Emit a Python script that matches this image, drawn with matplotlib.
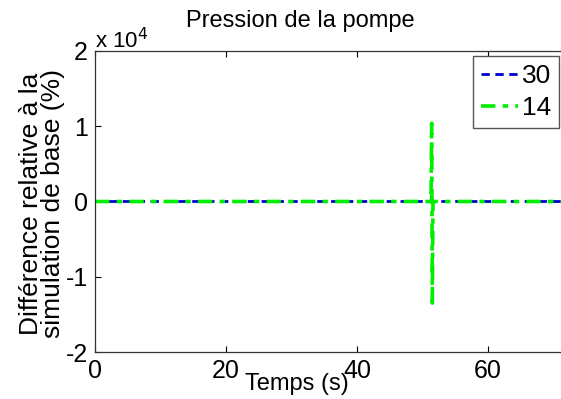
import numpy as np
import matplotlib.pyplot as plt

plt.rcParams['font.family'] = ['Liberation Sans', 'DejaVu Sans']

# time (s) and relative difference (%) for both runs
temps = [0, 5, 10, 15, 20, 25, 30, 35, 40, 45, 50, 51.3, 51.4, 51.5, 51.6, 52, 55, 60, 65, 70, 72]
diff_30 = [0, 0, 0, 0, 0, 0, 0, 0, 0, 0, 0, 0, 900, -200, 0, 0, 0, 0, 0, 0, 0]
diff_14 = [0, 0, 0, 0, 0, 0, 0, 0, 0, 0, 0, 0, 10400, -13500, 0, 0, 0, 0, 0, 0, 0]

xticks = [0, 20, 40, 60]
yticks = [-2e4, -1e4, 0, 1e4, 2e4]
ytick_labels = ['-2', '-1', '0', '1', '2']

fig = plt.figure(figsize=(5.61, 3.99), dpi=100)
x0, x1 = 95 / 561, (95 + 6.55 * 72) / 561
ax = fig.add_axes([x0, 1 - 352 / 399, x1 - x0, 301 / 399])

ax.plot(temps, diff_30, color='#0000cc', ls='--', lw=2, label='30', dashes=(3, 2))
ax.plot(temps, diff_14, color='#00ee00', ls='-.', lw=2.6, label='14', dashes=(4, 2, 1.5, 2))

ax.set_xlim(0, 72)
ax.set_ylim(-2e4, 2e4)
ax.set_xticks(xticks)
ax.set_yticks(yticks)
ax.set_yticklabels(ytick_labels)
ax.tick_params(direction='in', length=4, top=True, right=True, labelsize=18, pad=5)
for s in ax.spines.values():
    s.set_linewidth(0.9)
    s.set_color('#333333')

fig.text(95 / 561, 1 - 48 / 399, r'x 10$^{4}$', fontsize=16, va='baseline', ha='left')
fig.text(300 / 561, 1 - 21 / 399, 'Pression de la pompe', fontsize=17, va='center', ha='center')
ax.set_xlabel('Temps (s)', fontsize=17)
ax.xaxis.set_label_coords((297 - 95) / (x1 * 561 - 95), -(384 - 352) / 301)
ax.xaxis.label.set_va('center')
ax.set_ylabel('Différence relative à la\nsimulation de base (%)', fontsize=19, linespacing=0.88)
ax.yaxis.set_label_coords(-(95 - 42) / (x1 * 561 - 95), (352 - 204) / 301)
ax.yaxis.label.set_va('center')

leg = ax.legend(loc='upper right', bbox_to_anchor=(559 / 561, 1 - 56 / 399), bbox_transform=fig.transFigure,
                fontsize=19, handlelength=1.4, handletextpad=0.15, borderpad=0.3, labelspacing=0.3,
                borderaxespad=0, fancybox=False, framealpha=1, edgecolor='#555555')

fig.savefig('out.png', dpi=100)
